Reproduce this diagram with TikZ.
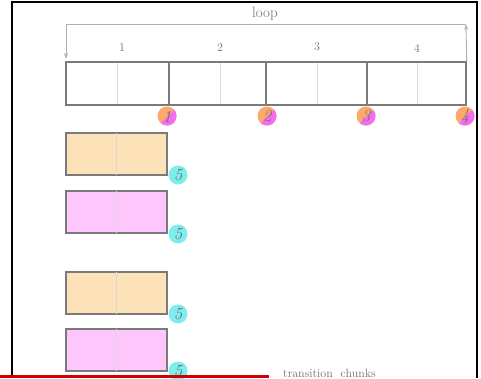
\documentclass[tikz,border=0pt]{standalone}
\usetikzlibrary{arrows.meta}
\definecolor{boxgray}{HTML}{7A7A7A}
\definecolor{divgray}{HTML}{DADADA}
\definecolor{arrgray}{HTML}{B0B0B0}
\definecolor{txtgray}{HTML}{707070}
\definecolor{chorange}{HTML}{FDE1B8}
\definecolor{chpink}{HTML}{FDC6FD}
\definecolor{dotorange}{HTML}{FBA96C}
\definecolor{dotmag}{HTML}{F46CF0}
\definecolor{dotcyan}{HTML}{7FEDEC}
\definecolor{framered}{HTML}{D00000}
\tikzset{
  barbox/.style={draw=boxgray, line width=1.4pt, inner sep=0pt, minimum width=400pt, minimum height=43pt},
  chunkbox/.style={draw=boxgray, line width=1.4pt, inner sep=0pt, minimum width=101pt, minimum height=42pt},
  divline/.style={draw=divgray, line width=0.9pt},
  darkdiv/.style={draw=boxgray, line width=1.1pt},
  loopline/.style={draw=arrgray, line width=0.9pt},
  numlab/.style={text=txtgray, font=\fontsize{12}{14}\selectfont, inner sep=0pt},
  dotlab/.style={text=txtgray, font=\fontsize{17}{19}\selectfont\itshape, inner sep=0pt},
  cyandot/.style={circle, fill=dotcyan, minimum size=19pt, inner sep=0pt, text=txtgray, font=\fontsize{17}{19}\selectfont\itshape},
}
\begin{document}
\begin{tikzpicture}[x=1pt,y=-1pt]
\useasboundingbox (0,0) rectangle (481,378);
% frame
\draw[black, line width=2pt] (12,378) -- (12,1.5) -- (476.5,1.5) -- (476.5,378);
% main bar
\node[barbox] (bar) at (266,83.5) {};
\foreach \x in {117,220,317,417} \draw[divline] (\x,63) -- (\x,104);
\foreach \x in {169,266,367} \draw[darkdiv] (\x,62) -- (\x,105);
% loop arrow
\coordinate (lt) at (66,24);
\coordinate (rt) at (466,24);
\coordinate (ltip) at (66,59);
\draw[loopline, -{Stealth[length=6pt,width=4pt]}] (bar.north east) -- (rt);
\draw[loopline, -{Stealth[length=6pt,width=4pt]}] (rt) -- (lt) -- (ltip);
\node[text=txtgray, font=\fontsize{15}{17}\selectfont, inner sep=0pt] (looplab) at (265,14) {loop};
% numbers
\node[numlab] (n1) at (122,48) {1};
\node[numlab] (n2) at (220,48) {2};
\node[numlab] (n3) at (317,47) {3};
\node[numlab] (n4) at (417,48) {4};
% half dots
\foreach \cx/\lab in {167/1,267/2,366/3,465/4}{
  \fill[dotorange] (\cx,116) circle (9.5pt);
  \begin{scope}
    \clip (\cx,116) circle (9.5pt);
    \fill[dotmag] (\cx,116) ++(-13,14) -- ++(28,-28) -- ++(0,28) -- cycle;
  \end{scope}
  \node[dotlab] (d\lab) at (\cx,116.5) {\lab};
}
% chunk boxes
\node[chunkbox, fill=chorange] (c1) at (116.5,154) {};
\node[chunkbox, fill=chpink] (c2) at (116.5,212) {};
\node[chunkbox, fill=chorange] (c3) at (116.5,293) {};
\node[chunkbox, fill=chpink] (c4) at (116.5,350) {};
\foreach \n in {1,2,3,4} \draw[divline] (c\n.north) ++(0,1) -- ([yshift=0.7pt]c\n.south);
\node[cyandot] (e1) at (178,175) {5};
\node[cyandot] (e2) at (178,234) {5};
\node[cyandot] (e3) at (178,314) {5};
\node[cyandot] (e4) at (178,371) {5};
\draw[framered, line width=3pt] (0,376.5) -- (269,376.5);
\node[text=txtgray, font=\fontsize{12}{14}\selectfont, inner sep=0pt, anchor=west] (tc) at (283,373) {transition\ \ chunks};
\end{tikzpicture}
\end{document}
